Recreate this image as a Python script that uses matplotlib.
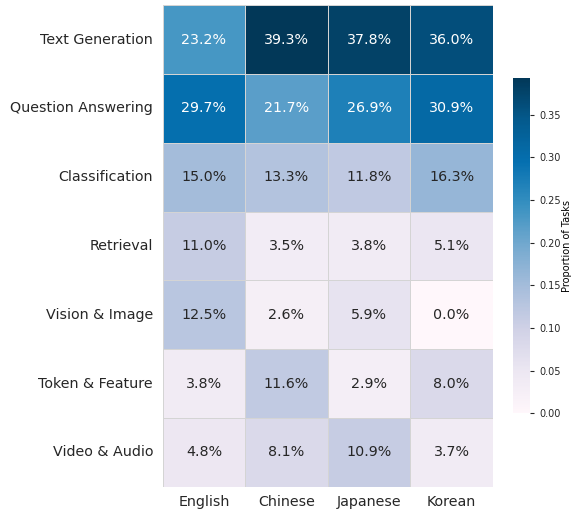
import numpy as np
import pandas as pd
import matplotlib
import matplotlib.pyplot as plt
import seaborn as sns
matplotlib.use('Agg')

tasks = ["Text Generation", "Question Answering", "Classification", "Retrieval",
         "Vision & Image", "Token & Feature", "Video & Audio"]
languages = ["English", "Chinese", "Japanese", "Korean"]

english = [0.232, 0.297, 0.150, 0.110, 0.125, 0.038, 0.048]
chinese = [0.393, 0.217, 0.133, 0.035, 0.026, 0.116, 0.081]
japanese = [0.378, 0.269, 0.118, 0.038, 0.059, 0.029, 0.109]
korean = [0.360, 0.309, 0.163, 0.051, 0.000, 0.080, 0.037]

df = pd.DataFrame({"English": english, "Chinese": chinese,
                   "Japanese": japanese, "Korean": korean}, index=tasks)

plt.rcParams['text.color'] = '#262626'
plt.rcParams['xtick.color'] = '#262626'
plt.rcParams['ytick.color'] = '#262626'

fig = plt.figure(figsize=(5.71, 5.12), dpi=100)
ax = fig.add_axes([0.285, 0.049, 0.578, 0.941])
cax = fig.add_axes([0.898, 0.193, 0.030, 0.655])

sns.heatmap(df, ax=ax, cbar_ax=cax, cmap="PuBu", vmin=0, vmax=df.values.max(),
            annot=True, fmt=".1%", annot_kws={"size": 10.3},
            linewidths=0.7, linecolor="#d4d4d4",
            cbar_kws={"label": "Proportion of Tasks"})

ax.tick_params(axis='both', length=0, labelsize=10.3)
ax.tick_params(axis='y', pad=7)
ax.tick_params(axis='x', pad=6)
ax.set_yticklabels(tasks, rotation=0)
ax.set_xticklabels(languages, rotation=0)
for s in ax.spines.values():
    s.set_visible(False)

cax.tick_params(labelsize=7, length=3, width=0.8, color='#262626')
cax.set_ylabel("Proportion of Tasks", fontsize=7, labelpad=1)
cax.yaxis.set_major_locator(matplotlib.ticker.MultipleLocator(0.05))
cax.yaxis.set_major_formatter(matplotlib.ticker.FormatStrFormatter('%.2f'))
for s in cax.spines.values():
    s.set_visible(False)

fig.savefig("out.png", dpi=100)
